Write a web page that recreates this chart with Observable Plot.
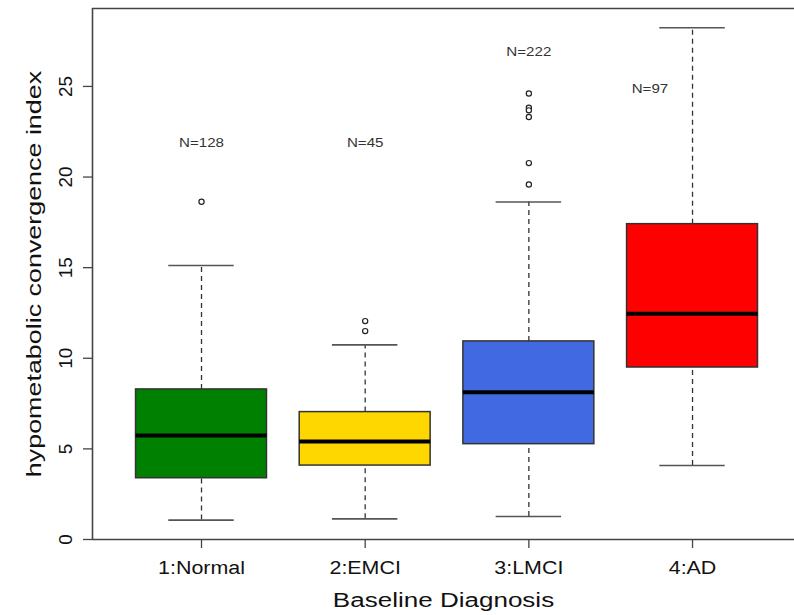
<!DOCTYPE html>
<html>
<head>
<meta charset="utf-8">
<script src="https://cdn.jsdelivr.net/npm/d3@7"></script>
<script src="https://cdn.jsdelivr.net/npm/@observablehq/plot@0.6"></script>
<style>
  html, body { margin: 0; padding: 0; background: #fff; }
</style>
</head>
<body>
<div id="chart"></div>
<script>
// ---- data ----
const categories = ["1:Normal", "2:EMCI", "3:LMCI", "4:AD"];
const groupIndex = [1, 2, 3, 4];
const whiskerLow = [1.07, 1.14, 1.27, 4.08];
const q1 = [3.38, 4.08, 5.26, 9.49];
const median = [5.74, 5.41, 8.13, 12.46];
const q3 = [8.28, 7.03, 10.93, 17.40];
const whiskerHigh = [15.12, 10.74, 18.62, 28.24];

const outlierGroup = [1, 2, 2, 3, 3, 3, 3, 3, 3];
const outlierValue = [18.64, 12.05, 11.50, 24.61, 23.82, 23.68, 23.31, 20.77, 19.59];

const countText = ["N=128", "N=45", "N=222", "N=97"];
const countX = [1, 2, 3, 3.74];
const countY = [21.9, 21.9, 26.9, 24.9];

const yTicks = [0, 5, 10, 15, 20, 25];
const boxColors = ["#008000", "#FFD700", "#4169E1", "#FF0000"];

// ---- tables built from the arrays ----
const boxes = categories.map((c, i) => ({
  cat: c, g: groupIndex[i], lo: whiskerLow[i], q1: q1[i], med: median[i], q3: q3[i], hi: whiskerHigh[i]
}));
const outliers = outlierGroup.map((g, i) => ({g, v: outlierValue[i]}));
const counts = countText.map((t, i) => ({t, x: countX[i], y: countY[i]}));

const halfBox = 0.4, halfCap = 0.2;
const xDomain = [0.334, 4.623];
const yDomain = [0, 29.3];
const axisColor = "#444";

const plot = Plot.plot({
  width: 794,
  height: 615,
  marginLeft: 92,
  marginRight: 0,
  marginTop: 8,
  marginBottom: 76,
  style: {fontFamily: "'Liberation Sans', Arial, sans-serif", background: "#fff", color: "#111"},
  x: {domain: xDomain, label: null},
  y: {domain: yDomain, label: null},
  color: {domain: categories, range: boxColors},
  marks: [
    // frame lines (left, bottom, top)
    Plot.ruleX([xDomain[0]], {y1: yDomain[0], y2: yDomain[1], stroke: axisColor, strokeWidth: 1.6}),
    Plot.ruleY([yDomain[0], yDomain[1]], {x1: xDomain[0], x2: xDomain[1], stroke: axisColor, strokeWidth: 1.6}),
    // axes
    Plot.axisY({ticks: yTicks, tickSize: 9, tickPadding: 12, tickRotate: -90, fontSize: 17.5,
      stroke: axisColor, strokeWidth: 1.3, label: null}),
    Plot.axisX({ticks: groupIndex, tickFormat: (d) => categories[d - 1], tickSize: 9, tickPadding: 13,
      fontSize: 18, stroke: axisColor, strokeWidth: 1.3, label: null}),
    // whiskers (dashed)
    Plot.ruleX(boxes, {x: "g", y1: "lo", y2: "q1", stroke: "#333", strokeWidth: 1.3, strokeDasharray: "5,4"}),
    Plot.ruleX(boxes, {x: "g", y1: "q3", y2: "hi", stroke: "#333", strokeWidth: 1.3, strokeDasharray: "5,4"}),
    // whisker caps
    Plot.ruleY(boxes, {y: "lo", x1: (d) => d.g - halfCap, x2: (d) => d.g + halfCap, stroke: "#555", strokeWidth: 1.6}),
    Plot.ruleY(boxes, {y: "hi", x1: (d) => d.g - halfCap, x2: (d) => d.g + halfCap, stroke: "#555", strokeWidth: 1.6}),
    // boxes
    Plot.rect(boxes, {x1: (d) => d.g - halfBox, x2: (d) => d.g + halfBox, y1: "q1", y2: "q3",
      fill: "cat", stroke: "#333", strokeWidth: 1.5}),
    // medians
    Plot.ruleY(boxes, {y: "med", x1: (d) => d.g - halfBox, x2: (d) => d.g + halfBox, stroke: "#000", strokeWidth: 4}),
    // outliers
    Plot.dot(outliers, {x: "g", y: "v", r: 2.6, stroke: "#222", strokeWidth: 1.2, fill: "#fff"}),
    // N labels
    Plot.text(counts, {x: "x", y: "y", text: "t", fontSize: 13.5, fill: "#333"}),
    // axis titles
    Plot.text(["Baseline Diagnosis"], {frameAnchor: "bottom", textAnchor: "middle", lineAnchor: "top", dy: 52.5,
      fontSize: 21, fill: "#111"}),
    Plot.text(["hypometabolic convergence index"], {frameAnchor: "left", textAnchor: "middle", rotate: -90,
      lineAnchor: "bottom", dx: -52, fontSize: 21, fill: "#111"})
  ]
});

// widen glyphs along the baseline, as in the reference rendering
function stretchTexts(group, s) {
  if (!group) return;
  group.querySelectorAll("text").forEach((t) => {
    const tr = t.getAttribute("transform") || "";
    t.setAttribute("transform", tr + ` scale(${s},1)`);
  });
}
stretchTexts(plot.querySelector('g[aria-label="y-axis tick label"]'), 1.08);
stretchTexts(plot.querySelector('g[aria-label="x-axis tick label"]'), 1.19);
const textGroups = plot.querySelectorAll('g[aria-label="text"]');
stretchTexts(textGroups[0], 1.12);  // N labels
stretchTexts(textGroups[1], 1.24);  // x title
stretchTexts(textGroups[2], 1.28);  // y title

document.getElementById("chart").appendChild(plot);
</script>
</body>
</html>
